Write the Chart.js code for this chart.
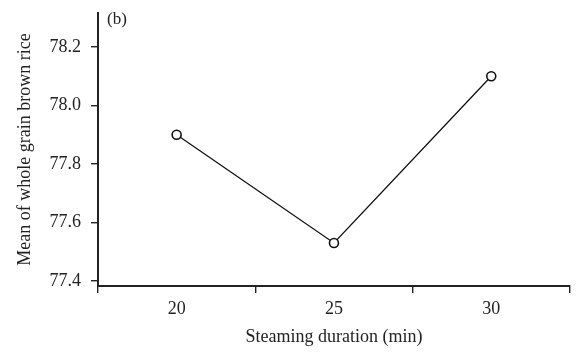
<!DOCTYPE html>
<html>
<head>
<meta charset="utf-8">
<script src="https://cdn.jsdelivr.net/npm/chart.js@4"></script>
<style>
  html, body { margin: 0; padding: 0; background: #fff; }
</style>
</head>
<body>
<canvas id="chart" width="576" height="352"></canvas>
<script>
// data
const durations = ['20', '25', '30'];
const meanValues = [77.90, 77.53, 78.10];
const yTicks = [77.4, 77.6, 77.8, 78.0, 78.2];
const panelLabel = '(b)';

const serif = "'Liberation Serif', 'Times New Roman', serif";

// draws the "(b)" panel tag in the top left corner of the plot
const panelTag = {
  id: 'panelTag',
  afterDraw(chart) {
    const c = chart.ctx;
    c.save();
    c.font = '17px ' + serif;
    c.fillStyle = '#222';
    c.textBaseline = 'middle';
    c.fillText(panelLabel, chart.chartArea.left + 9, 20);
    c.restore();
  }
};

var ctx = document.getElementById('chart').getContext('2d');

new Chart(ctx, {
  type: 'line',
  data: {
    labels: durations,
    datasets: [{
      data: meanValues,
      borderColor: '#111',
      borderWidth: 1.3,
      pointRadius: 4.5,
      pointBackgroundColor: '#fff',
      pointBorderColor: '#111',
      pointBorderWidth: 1.6,
      tension: 0
    }]
  },
  options: {
    responsive: false,
    animation: false,
    devicePixelRatio: 1,
    layout: { padding: { top: 13, right: 4, left: 0, bottom: 0 } },
    plugins: {
      legend: { display: false },
      tooltip: { enabled: false }
    },
    scales: {
      x: {
        type: 'category',
        offset: true,
        grid: {
          offset: true,
          drawOnChartArea: false,
          drawTicks: true,
          tickLength: 7,
          color: '#222',
          lineWidth: 1.4
        },
        border: { display: true, color: '#222', width: 2 },
        ticks: {
          color: '#222',
          padding: 5,
          font: { family: serif, size: 18 }
        },
        title: {
          display: true,
          text: 'Steaming duration (min)',
          color: '#222',
          font: { family: serif, size: 18 },
          padding: { top: 11 }
        },
        afterFit(scale) { scale.height = 66; }
      },
      y: {
        min: 77.383,
        max: 78.316,
        afterBuildTicks(scale) {
          scale.ticks = yTicks.map(v => ({ value: v }));
        },
        grid: {
          drawOnChartArea: false,
          drawTicks: true,
          tickLength: 7,
          color: '#222',
          lineWidth: 1.4
        },
        border: { display: true, color: '#222', width: 2 },
        ticks: {
          color: '#222',
          padding: 10,
          font: { family: serif, size: 18 },
          callback: v => v.toFixed(1)
        },
        title: {
          display: true,
          text: 'Mean of whole grain brown rice',
          color: '#222',
          font: { family: serif, size: 18 },
          padding: { top: 14, bottom: 0 }
        },
        afterFit(scale) {
          scale.width = 98;
          scale.paddingTop = 0;
          scale.paddingBottom = 0;
        }
      }
    }
  },
  plugins: [panelTag]
});
</script>
</body>
</html>
